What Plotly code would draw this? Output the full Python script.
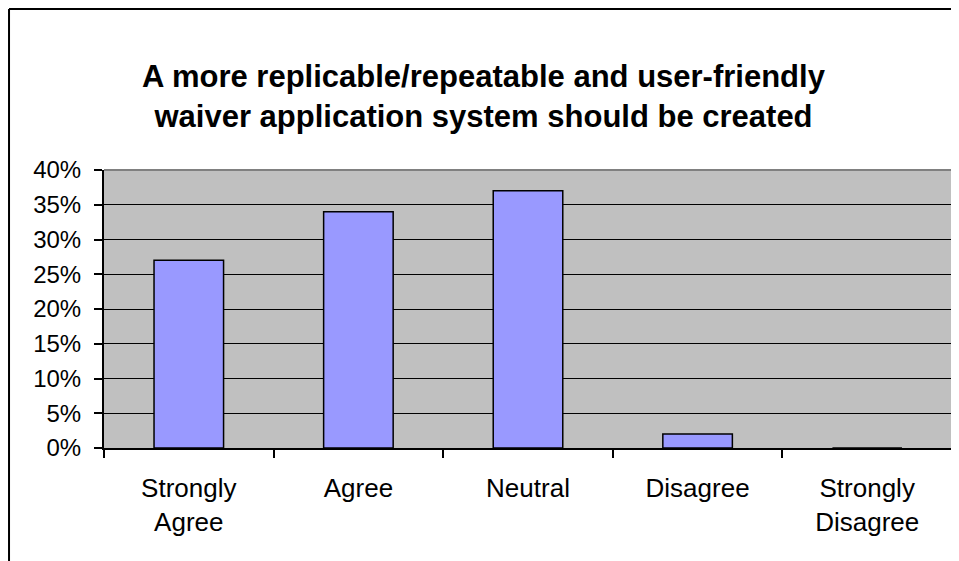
import plotly.graph_objects as go

categories = ["Strongly<br>Agree", "Agree", "Neutral", "Disagree", "Strongly<br>Disagree"]
percent = [27, 34, 37, 2, 0]
title_text = "A more replicable/repeatable and user-friendly<br>waiver application system should be created"

fig = go.Figure()

fig.add_trace(go.Bar(
    x=categories,
    y=percent,
    marker=dict(color="#9999FF", line=dict(color="black", width=1.5)),
    width=0.41,
))

# page body adds an 8px margin, so the figure is 8px smaller each way
fig.update_layout(
    width=951,
    height=553,
    margin=dict(l=96, r=7, t=162, b=113),
    paper_bgcolor="white",
    plot_bgcolor="#C0C0C0",
    showlegend=False,
    font=dict(family="Liberation Sans, Arial, sans-serif", size=24, color="black"),
    title=dict(
        text="<b>" + title_text + "</b>",
        x=0.5,
        xanchor="center",
        y=0.857,
        yanchor="middle",
        font=dict(size=31, color="black"),
    ),
)

fig.update_xaxes(
    showgrid=False,
    showline=True,
    linecolor="black",
    linewidth=2,
    ticks="outside",
    tickson="boundaries",
    ticklen=8,
    tickwidth=2,
    tickcolor="black",
    tickfont=dict(size=26),
    ticklabelstandoff=16,
)

fig.update_yaxes(
    range=[0, 40],
    dtick=5,
    ticksuffix="%",
    showgrid=True,
    gridcolor="black",
    gridwidth=1,
    zeroline=False,
    showline=True,
    linecolor="black",
    linewidth=2,
    ticks="outside",
    ticklen=8,
    tickwidth=2,
    tickcolor="black",
    tickfont=dict(size=24),
    ticklabelstandoff=8,
)

# gray top/right edge of plot area
fig.add_shape(type="line", xref="paper", yref="paper", x0=0, x1=1, y0=1, y1=1,
              line=dict(color="#808080", width=2), layer="above")
fig.add_shape(type="line", xref="paper", yref="paper", x0=1, x1=1, y0=0, y1=1,
              line=dict(color="#808080", width=2), layer="above")

# outer chart frame (left and top edges visible)
fig.add_shape(type="line", xref="paper", yref="paper", x0=-0.112, x1=1.0035, y0=1.579, y1=1.579,
              line=dict(color="black", width=2))
fig.add_shape(type="line", xref="paper", yref="paper", x0=-0.112, x1=-0.112, y0=1.579, y1=-0.45,
              line=dict(color="black", width=2))

fig.write_html("out.html")
